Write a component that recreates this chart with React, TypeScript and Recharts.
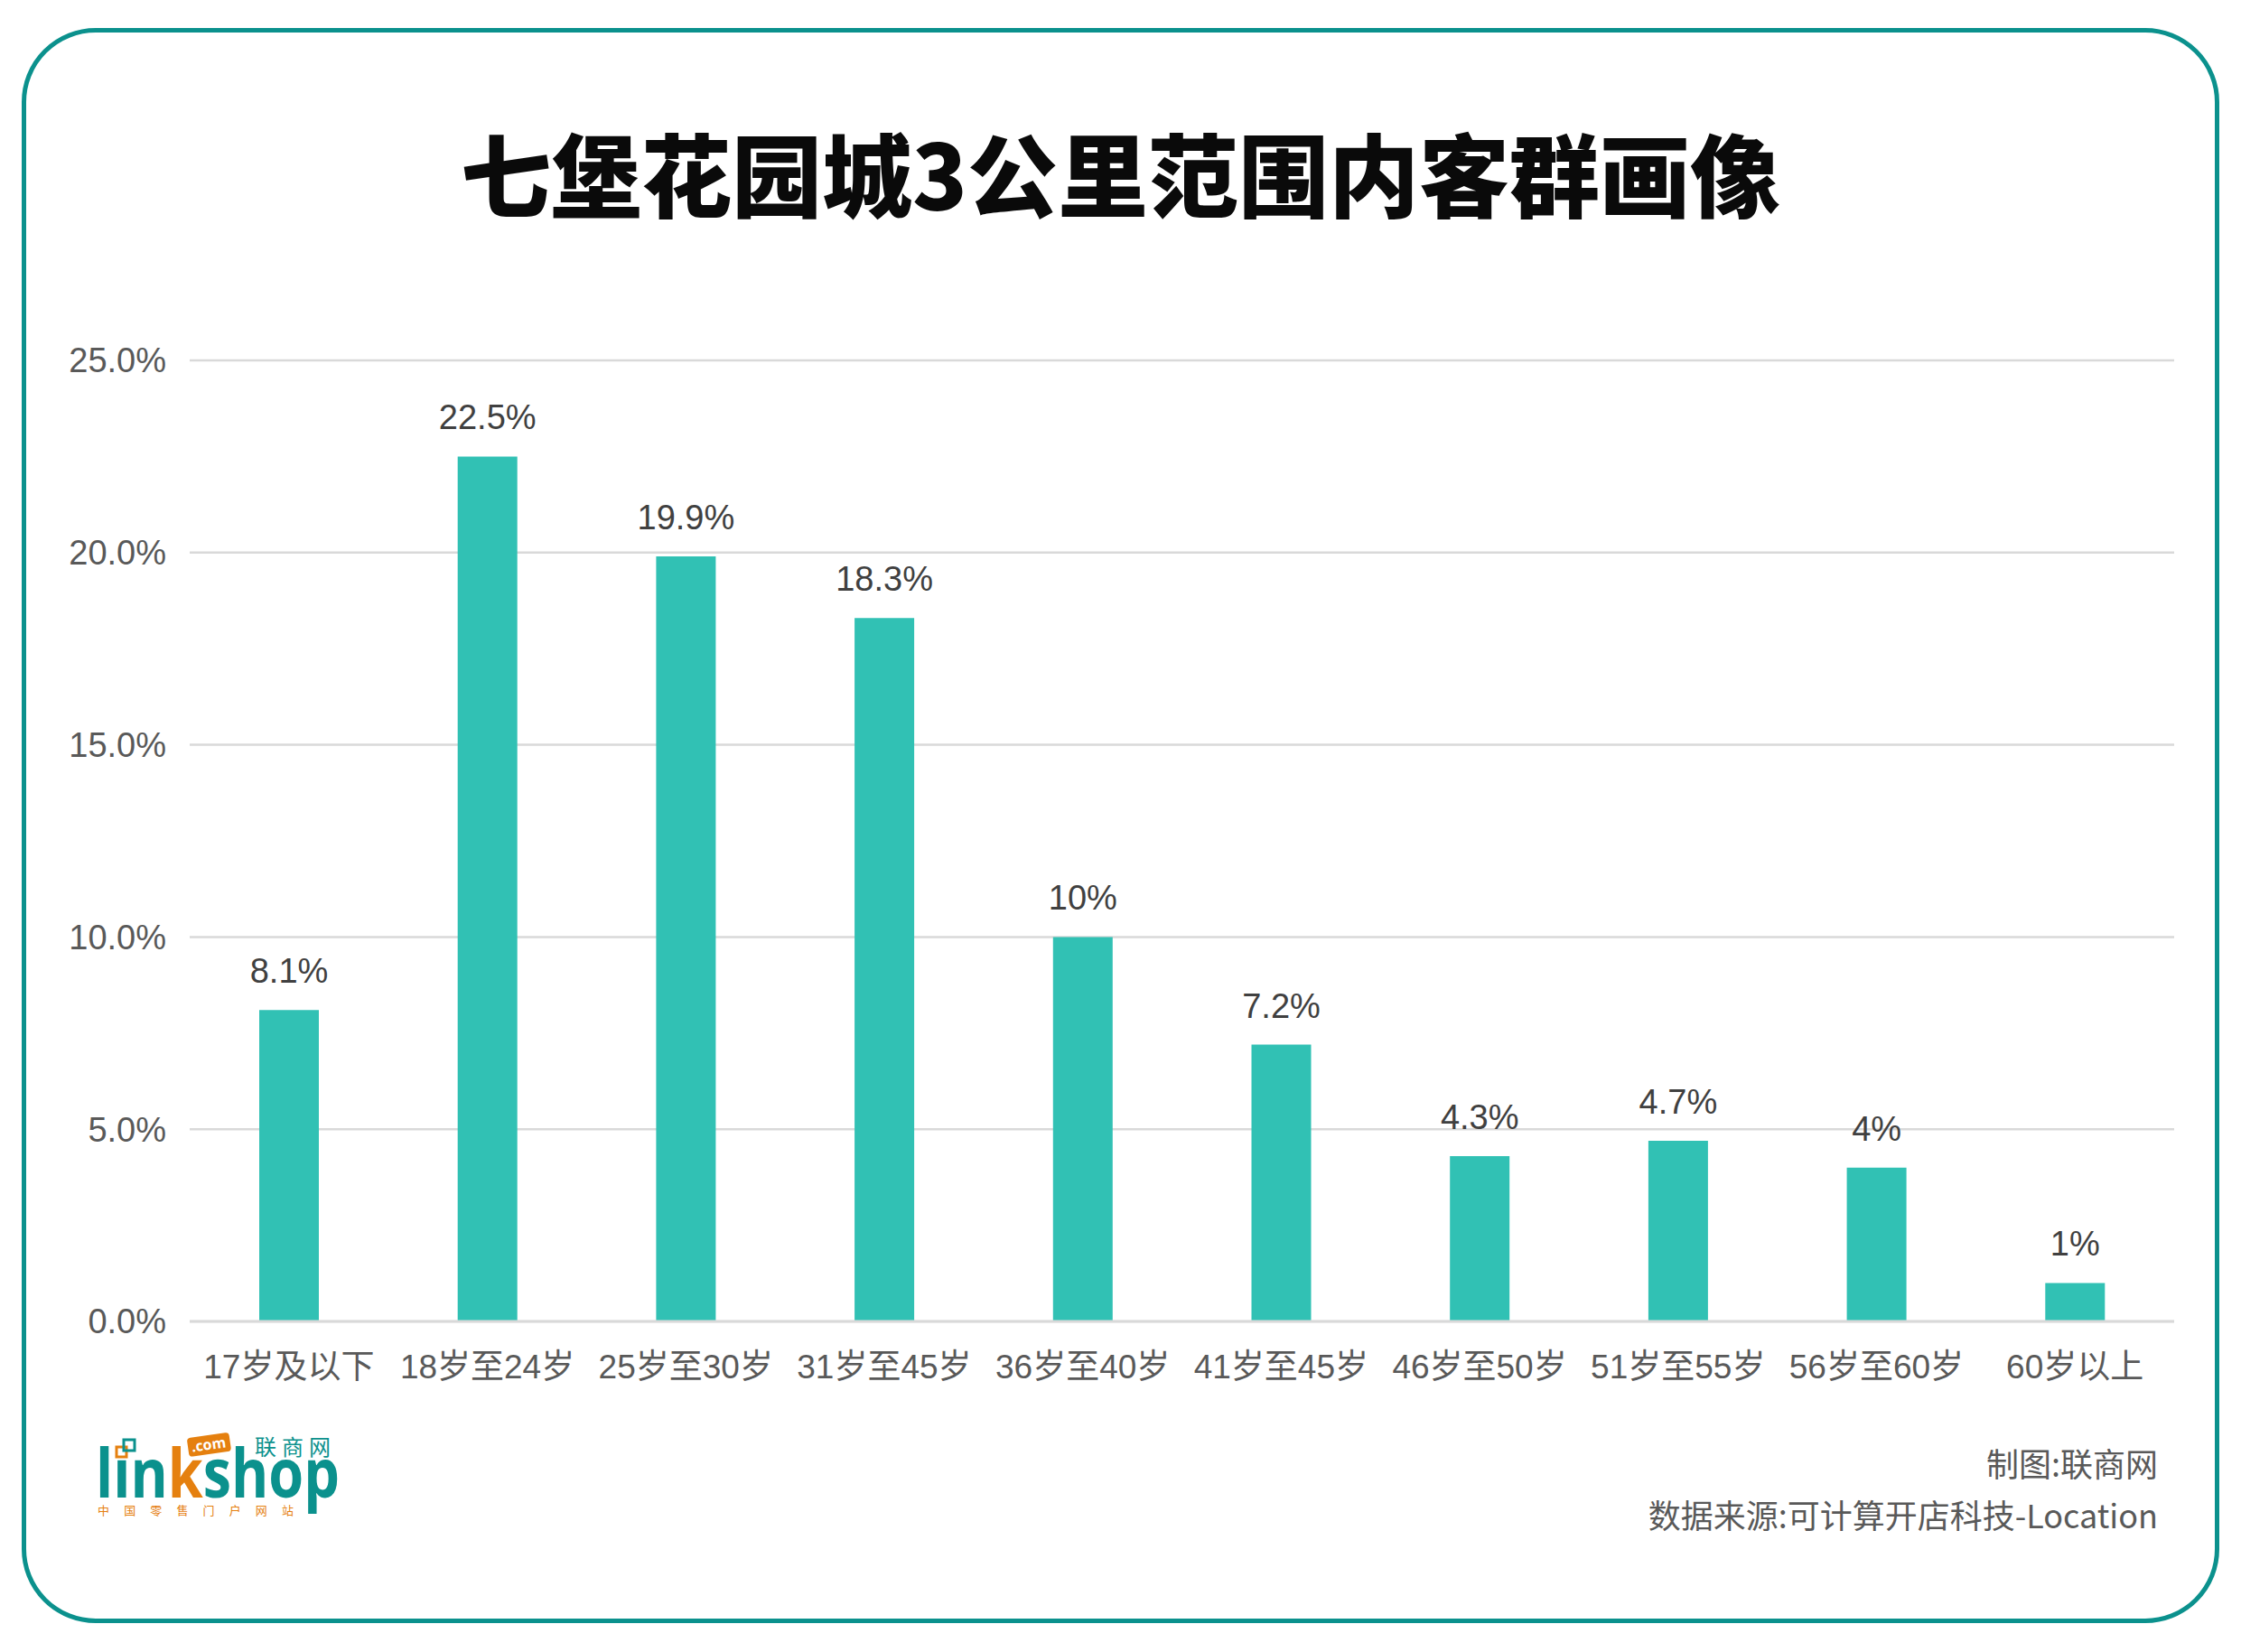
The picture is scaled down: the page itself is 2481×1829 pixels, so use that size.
import { BarChart, Bar, XAxis, YAxis, CartesianGrid, LabelList } from "recharts";

const ageGroups = ["17岁及以下", "18岁至24岁", "25岁至30岁", "31岁至45岁", "36岁至40岁", "41岁至45岁", "46岁至50岁", "51岁至55岁", "56岁至60岁", "60岁以上"];
const shares = [8.1, 22.5, 19.9, 18.3, 10, 7.2, 4.3, 4.7, 4, 1];
const shareLabels = ["8.1%", "22.5%", "19.9%", "18.3%", "10%", "7.2%", "4.3%", "4.7%", "4%", "1%"];
const yTicks = [0, 5, 10, 15, 20, 25];

const FONT = '"Liberation Sans", "Noto Sans CJK SC", sans-serif';
const CJK = '"Noto Sans CJK SC", sans-serif';
const TEAL = "#0b918d";
const ORANGE = "#e5800f";

const data = ageGroups.map((g, i) => ({ group: g, share: shares[i], label: shareLabels[i] }));

function Logo() {
  return (
    <svg width={2481} height={1829} style={{ position: "absolute", left: 0, top: 0, pointerEvents: "none" }}>
      <rect x={129} y={1602} width={11} height={11} fill="none" stroke={ORANGE} strokeWidth={3} />
      <rect x={137} y={1594} width={12} height={12} fill="none" stroke={TEAL} strokeWidth={3} />
      <g transform="rotate(-8 231 1600)">
        <rect x={208} y={1589} width={47} height={21} rx={4} fill={ORANGE} />
        <text x={231} y={1605} textAnchor="middle" fontSize={16} fontWeight={700} fill="#fff" fontFamily='"Open Sans", sans-serif'>.com</text>
      </g>
      <text x={106} y={1658} fontSize={76} fontWeight={700} fontFamily='"Open Sans", sans-serif' textLength={270} lengthAdjust="spacingAndGlyphs">
        <tspan fill={TEAL}>lın</tspan>
        <tspan fill={ORANGE}>k</tspan>
        <tspan fill={TEAL}>shop</tspan>
      </text>
      <text x={282} y={1611} fontSize={24} fill={TEAL} fontFamily={CJK} textLength={84}>联商网</text>
      <text x={108} y={1677} fontSize={13} fill={ORANGE} fontFamily={CJK} textLength={217}>中国零售门户网站</text>
    </svg>
  );
}

export default function App() {
  return (
    <div style={{ position: "absolute", left: 0, top: 0, width: 2481, height: 1829, background: "#fff", overflow: "hidden" }}>
      <div
        style={{
          position: "absolute",
          left: 24,
          top: 31,
          width: 2433,
          height: 1766,
          boxSizing: "border-box",
          border: `5px solid ${TEAL}`,
          borderRadius: 82,
        }}
      />
      <div
        style={{
          position: "absolute",
          left: 0,
          top: 140,
          width: 2481,
          textAlign: "center",
          fontFamily: CJK,
          fontWeight: 900,
          fontSize: 100,
          lineHeight: "100px",
          color: "#0a0a0a",
        }}
      >
        七堡花园城3公里范围内客群画像
      </div>
      <div style={{ position: "absolute", left: 0, top: 0 }}>
        <BarChart width={2481} height={1829} data={data} margin={{ top: 399, right: 74, bottom: 306, left: 0 }}>
          <CartesianGrid vertical={false} stroke="#d9d9d9" strokeWidth={2.5} />
          <XAxis
            dataKey="group"
            height={60}
            tickLine={false}
            tickSize={0}
            tickMargin={37}
            axisLine={{ stroke: "#d9d9d9", strokeWidth: 3 }}
            interval={0}
            tick={{ fill: "#595959", fontSize: 37, fontFamily: FONT }}
          />
          <YAxis
            width={210}
            domain={[0, 25]}
            ticks={yTicks}
            axisLine={false}
            tickLine={false}
            tickSize={0}
            tickMargin={26}
            tickFormatter={(v: number) => v.toFixed(1) + "%"}
            tick={{ fill: "#595959", fontSize: 38, fontFamily: FONT }}
          />
          <Bar dataKey="share" fill="#31c1b4" barSize={66} isAnimationActive={false}>
            <LabelList dataKey="label" position="top" offset={30} fill="#404040" fontSize={38} fontFamily={FONT} />
          </Bar>
        </BarChart>
      </div>
      <div style={{ position: "absolute", right: 92, top: 1600, fontFamily: CJK, fontSize: 36, lineHeight: "38px", color: "#595959", textAlign: "right" }}>
        制图:联商网
      </div>
      <div style={{ position: "absolute", right: 92, top: 1657, fontFamily: CJK, fontSize: 36, lineHeight: "38px", color: "#595959", textAlign: "right", whiteSpace: "nowrap" }}>
        数据来源:可计算开店科技-Location
      </div>
      <Logo />
    </div>
  );
}
